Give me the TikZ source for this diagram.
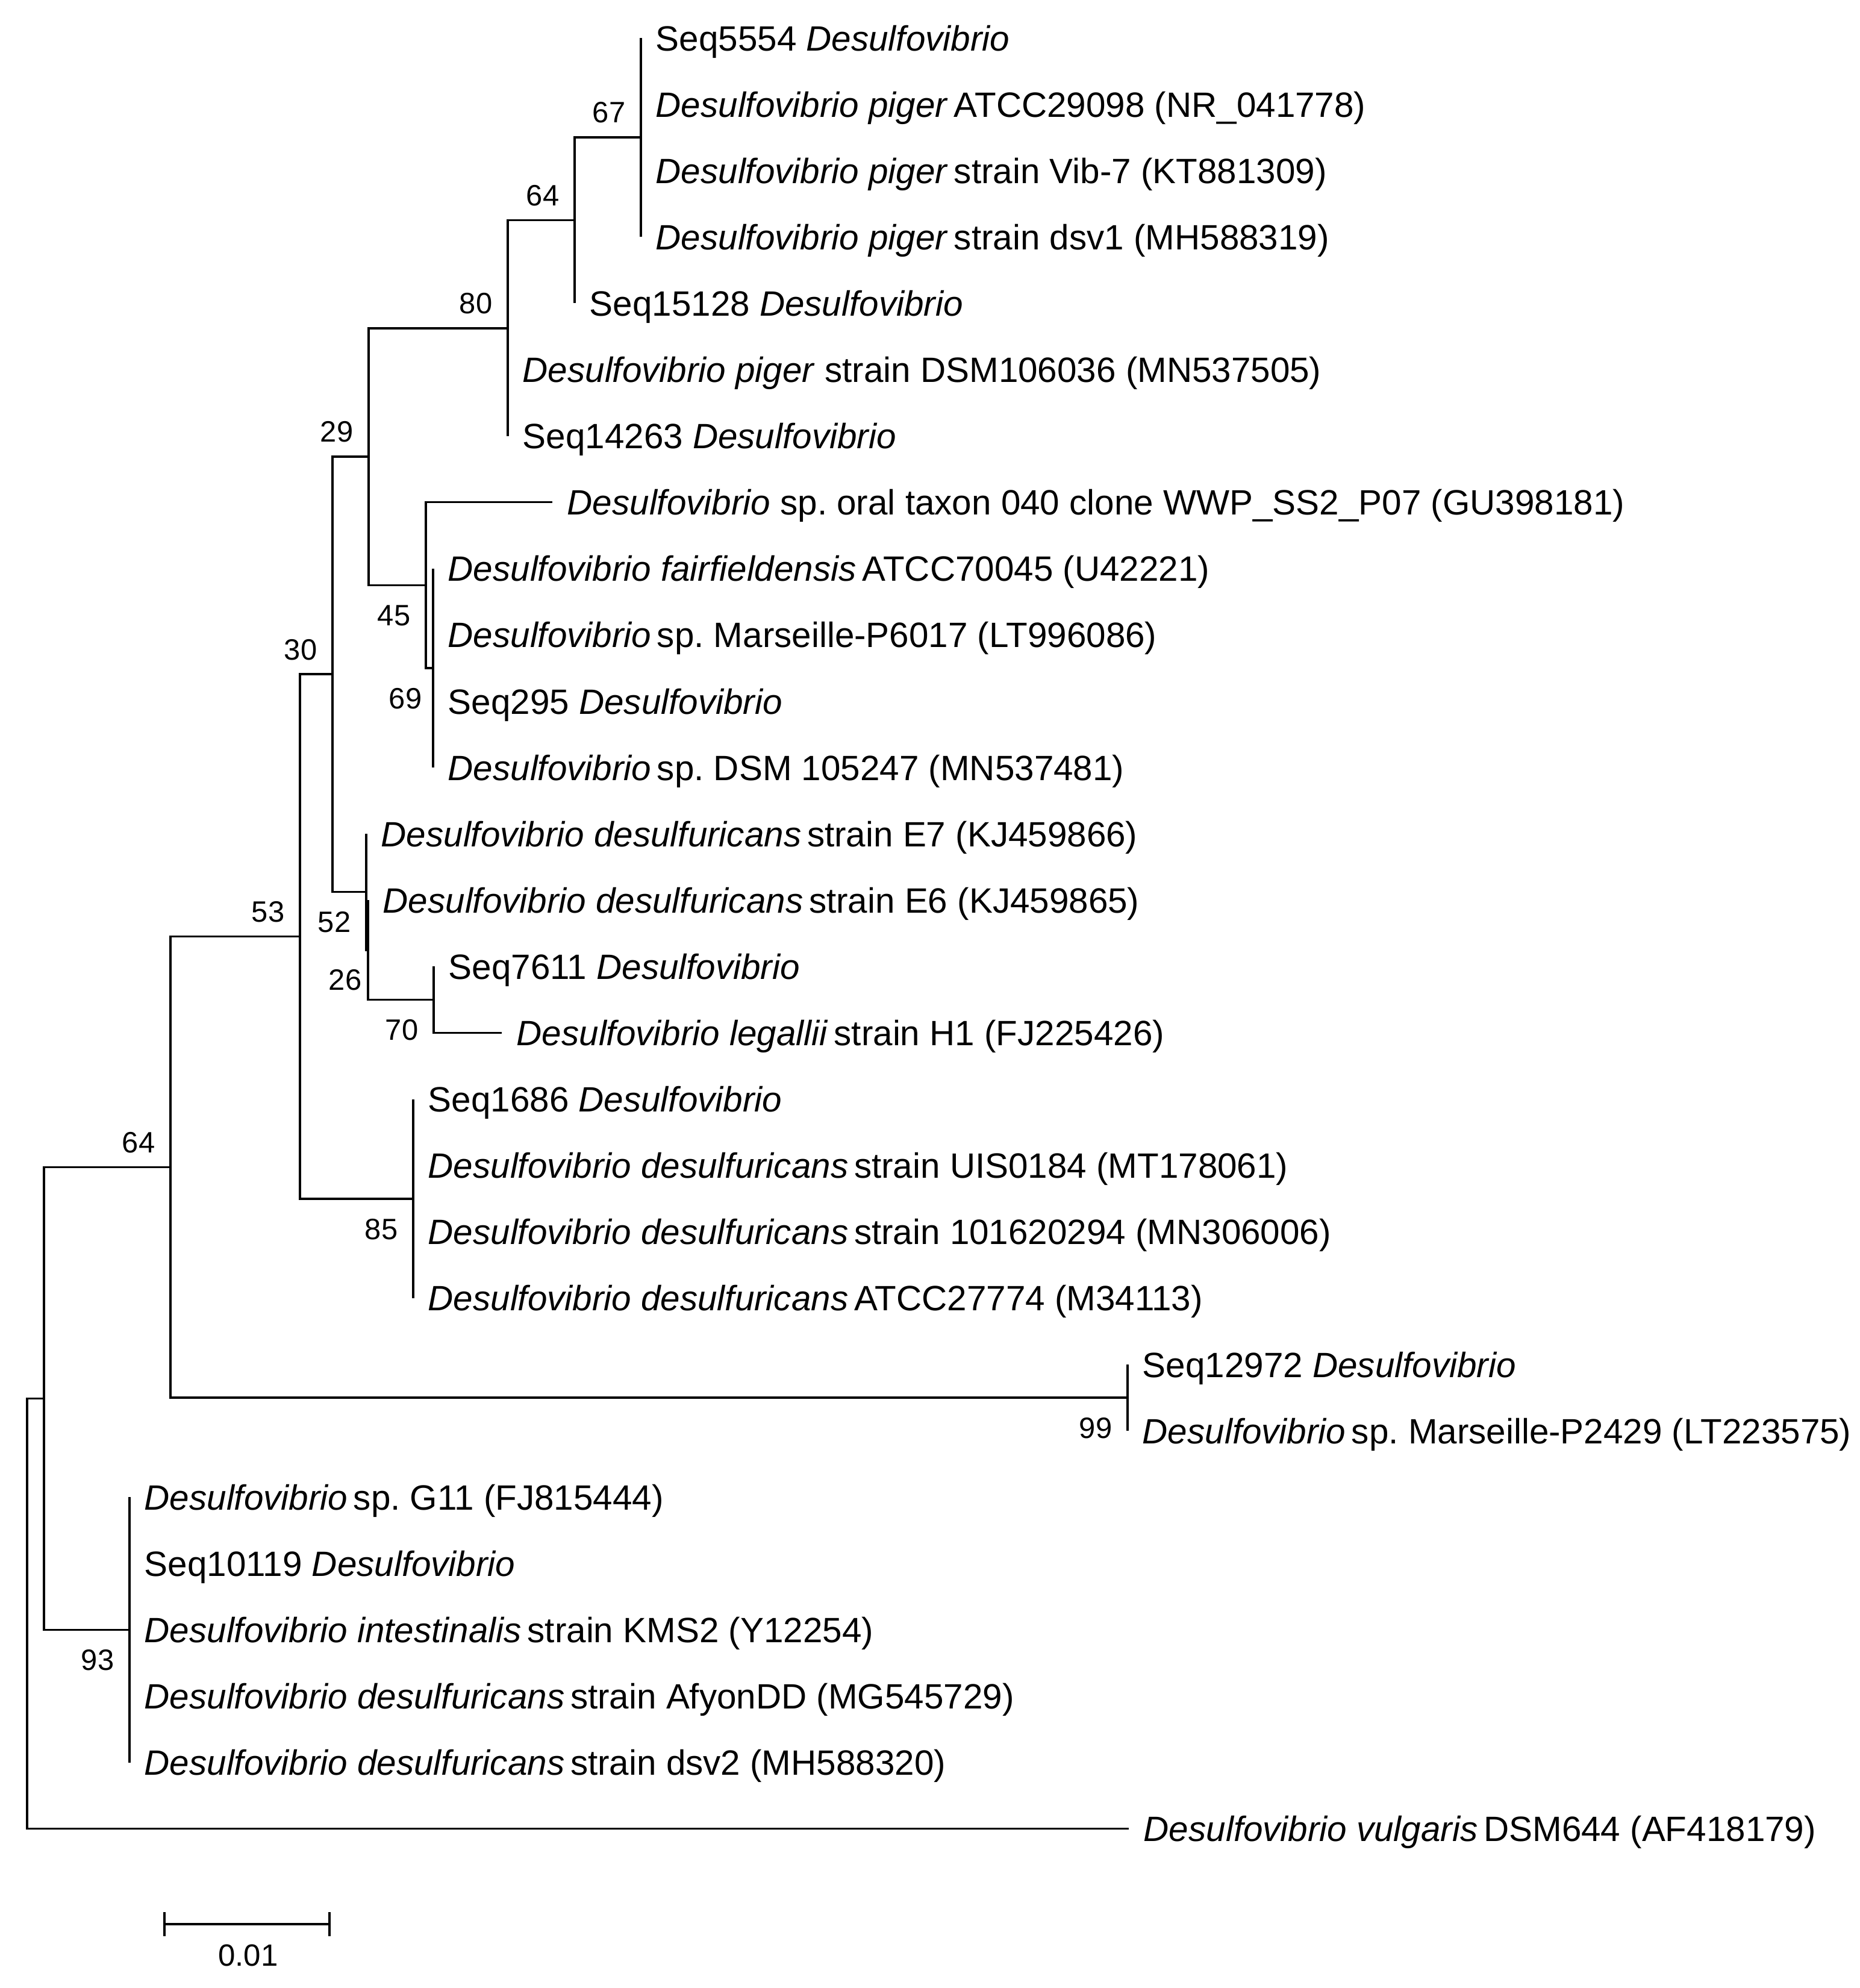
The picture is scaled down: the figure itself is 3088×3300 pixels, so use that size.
\documentclass[tikz,border=0pt]{standalone}
\usepackage{fontspec}
\setmainfont{Liberation Sans}
\usepackage{tikz}
\usetikzlibrary{positioning}
\frenchspacing

\begin{document}
\begin{tikzpicture}[x=0.01cm, y=-0.01cm, line width=1pt,
  leaf/.style={anchor=base west, inner sep=0pt, xshift=0.23cm, yshift=-0.21cm, font=\fontsize{16.6}{20}\selectfont},
  bsup/.style={anchor=base east, inner sep=0pt, xshift=-0.24cm, yshift=0.24cm, font=\fontsize{13.9}{16}\selectfont},
  bsdown/.style={anchor=base east, inner sep=0pt, xshift=-0.24cm, yshift=-0.67cm, font=\fontsize{13.9}{16}\selectfont}]
  \useasboundingbox (0,0) rectangle (3088,3300);

  \coordinate (root) at (45,2678.7);
  \coordinate (nA) at (73,2321.4);
  \coordinate (n93) at (215,2705.5);
  \coordinate (n64b) at (283,1937.3);
  \coordinate (n99) at (1872,2320);
  \coordinate (n53) at (498,1554.6);
  \coordinate (n85) at (686,1990);
  \coordinate (n30) at (552,1119.2);
  \coordinate (n52) at (608,1480.4);
  \coordinate (n26) at (611,1576.8);
  \coordinate (n70) at (720,1659.5);
  \coordinate (n29) at (612,758);
  \coordinate (n45) at (707,971.5);
  \coordinate (n69) at (719,1109);
  \coordinate (n80) at (843,544.8);
  \coordinate (n64a) at (954,365.5);
  \coordinate (n67) at (1064,228);

  \coordinate (s5554) at (1064,63);
  \coordinate (pigNR) at (1064,173.1);
  \coordinate (pigKT) at (1064,283.2);
  \coordinate (pigMH) at (1064,393.3);
  \coordinate (s15128) at (954,503.4);
  \coordinate (pigMN) at (843,613.5);
  \coordinate (s14263) at (843,723.6);
  \coordinate (oralGU) at (917,833.7);
  \coordinate (fairU) at (719,943.8);
  \coordinate (marsLT96) at (719,1053.9);
  \coordinate (s295) at (719,1164);
  \coordinate (dsmMN) at (719,1274.1);
  \coordinate (desKJ66) at (608,1384.2);
  \coordinate (desKJ65) at (611,1494.3);
  \coordinate (s7611) at (720,1604.4);
  \coordinate (legFJ) at (833,1714.5);
  \coordinate (s1686) at (686,1824.6);
  \coordinate (desMT) at (686,1934.7);
  \coordinate (desMN) at (686,2044.8);
  \coordinate (desM34) at (686,2154.9);
  \coordinate (s12972) at (1872,2265);
  \coordinate (marsLT22) at (1872,2375.1);
  \coordinate (g11FJ) at (215,2485.2);
  \coordinate (s10119) at (215,2595.3);
  \coordinate (intY) at (215,2705.4);
  \coordinate (desMG) at (215,2815.5);
  \coordinate (desMH) at (215,2925.6);
  \coordinate (vulAF) at (1874,3035.7);

  \draw (root) |- (nA);
  \draw (root) |- (vulAF);
  \draw (nA) |- (n64b);
  \draw (nA) |- (n93);
  \draw (n93) |- (g11FJ);
  \draw (n93) |- (s10119);
  \draw (n93) |- (intY);
  \draw (n93) |- (desMG);
  \draw (n93) |- (desMH);
  \draw (n64b) |- (n53);
  \draw (n64b) |- (n99);
  \draw (n99) |- (s12972);
  \draw (n99) |- (marsLT22);
  \draw (n53) |- (n30);
  \draw (n53) |- (n85);
  \draw (n85) |- (s1686);
  \draw (n85) |- (desMT);
  \draw (n85) |- (desMN);
  \draw (n85) |- (desM34);
  \draw (n30) |- (n29);
  \draw (n30) |- (n52);
  \draw (n52) |- (desKJ66);
  \draw (n52) |- (n26);
  \draw (n26) |- (desKJ65);
  \draw (n26) |- (n70);
  \draw (n70) |- (s7611);
  \draw (n70) |- (legFJ);
  \draw (n29) |- (n80);
  \draw (n29) |- (n45);
  \draw (n45) |- (oralGU);
  \draw (n45) |- (n69);
  \draw (n69) |- (fairU);
  \draw (n69) |- (marsLT96);
  \draw (n69) |- (s295);
  \draw (n69) |- (dsmMN);
  \draw (n80) |- (n64a);
  \draw (n80) |- (pigMN);
  \draw (n80) |- (s14263);
  \draw (n64a) |- (n67);
  \draw (n64a) |- (s15128);
  \draw (n67) |- (s5554);
  \draw (n67) |- (pigNR);
  \draw (n67) |- (pigKT);
  \draw (n67) |- (pigMH);

  \node[leaf] (s5554t) at (s5554) {Seq5554 \textit{Desulfovibrio}};
  \node[leaf] (pigNRt) at (pigNR) {\textit{Desulfovibrio piger}\,ATCC29098 (NR\_041778)};
  \node[leaf] (pigKTt) at (pigKT) {\textit{Desulfovibrio piger}\,strain Vib-7 (KT881309)};
  \node[leaf] (pigMHt) at (pigMH) {\textit{Desulfovibrio piger}\,strain dsv1 (MH588319)};
  \node[leaf] (s15128t) at (s15128) {Seq15128 \textit{Desulfovibrio}};
  \node[leaf] (pigMNt) at (pigMN) {\textit{Desulfovibrio piger} strain DSM106036 (MN537505)};
  \node[leaf] (s14263t) at (s14263) {Seq14263 \textit{Desulfovibrio}};
  \node[leaf] (oralGUt) at (oralGU) {\textit{Desulfovibrio} sp. oral taxon 040 clone WWP\_SS2\_P07 (GU398181)};
  \node[leaf] (fairUt) at (fairU) {\textit{Desulfovibrio fairfieldensis}\,ATCC70045 (U42221)};
  \node[leaf] (marsLT96t) at (marsLT96) {\textit{Desulfovibrio}\,sp. Marseille-P6017 (LT996086)};
  \node[leaf] (s295t) at (s295) {Seq295 \textit{Desulfovibrio}};
  \node[leaf] (dsmMNt) at (dsmMN) {\textit{Desulfovibrio}\,sp. DSM 105247 (MN537481)};
  \node[leaf] (desKJ66t) at (desKJ66) {\textit{Desulfovibrio desulfuricans}\,strain E7 (KJ459866)};
  \node[leaf] (desKJ65t) at (desKJ65) {\textit{Desulfovibrio desulfuricans}\,strain E6 (KJ459865)};
  \node[leaf] (s7611t) at (s7611) {Seq7611 \textit{Desulfovibrio}};
  \node[leaf] (legFJt) at (legFJ) {\textit{Desulfovibrio legallii}\,strain H1 (FJ225426)};
  \node[leaf] (s1686t) at (s1686) {Seq1686 \textit{Desulfovibrio}};
  \node[leaf] (desMTt) at (desMT) {\textit{Desulfovibrio desulfuricans}\,strain UIS0184 (MT178061)};
  \node[leaf] (desMNt) at (desMN) {\textit{Desulfovibrio desulfuricans}\,strain 101620294 (MN306006)};
  \node[leaf] (desM34t) at (desM34) {\textit{Desulfovibrio desulfuricans}\,ATCC27774 (M34113)};
  \node[leaf] (s12972t) at (s12972) {Seq12972 \textit{Desulfovibrio}};
  \node[leaf] (marsLT22t) at (marsLT22) {\textit{Desulfovibrio}\,sp. Marseille-P2429 (LT223575)};
  \node[leaf] (g11FJt) at (g11FJ) {\textit{Desulfovibrio}\,sp. G11 (FJ815444)};
  \node[leaf] (s10119t) at (s10119) {Seq10119 \textit{Desulfovibrio}};
  \node[leaf] (intYt) at (intY) {\textit{Desulfovibrio intestinalis}\,strain KMS2 (Y12254)};
  \node[leaf] (desMGt) at (desMG) {\textit{Desulfovibrio desulfuricans}\,strain AfyonDD (MG545729)};
  \node[leaf] (desMHt) at (desMH) {\textit{Desulfovibrio desulfuricans}\,strain dsv2 (MH588320)};
  \node[leaf] (vulAFt) at (vulAF) {\textit{Desulfovibrio vulgaris}\,DSM644 (AF418179)};

  \node[bsup] (b67) at (n67) {67};
  \node[bsup] (b64a) at (n64a) {64};
  \node[bsup] (b80) at (n80) {80};
  \node[bsup] (b29) at (n29) {29};
  \node[bsdown] (b45) at (n45) {45};
  \node[bsdown, xshift=0.07cm] (b69) at (n69) {69};
  \node[bsup] (b30) at (n30) {30};
  \node[bsdown] (b52) at (n52) {52};
  \node[bsdown, xshift=0.15cm] (b26) at (n26) {26};
  \node[bsdown] (b70) at (n70) {70};
  \node[bsup] (b53) at (n53) {53};
  \node[bsdown] (b85) at (n85) {85};
  \node[bsup] (b64b) at (n64b) {64};
  \node[bsdown] (b99) at (n99) {99};
  \node[bsdown] (b93) at (n93) {93};

  \coordinate (sbl) at (273,3194);
  \coordinate (sbr) at (547,3194);
  \draw (sbl) -- (sbr);
  \draw (sbl) ++(0,-20) -- ++(0,40);
  \draw (sbr) ++(0,-20) -- ++(0,40);
  \node[anchor=base, inner sep=0pt, font=\fontsize{14.5}{16}\selectfont] (sbtxt) at (412,3263) {0.01};
\end{tikzpicture}
\end{document}
